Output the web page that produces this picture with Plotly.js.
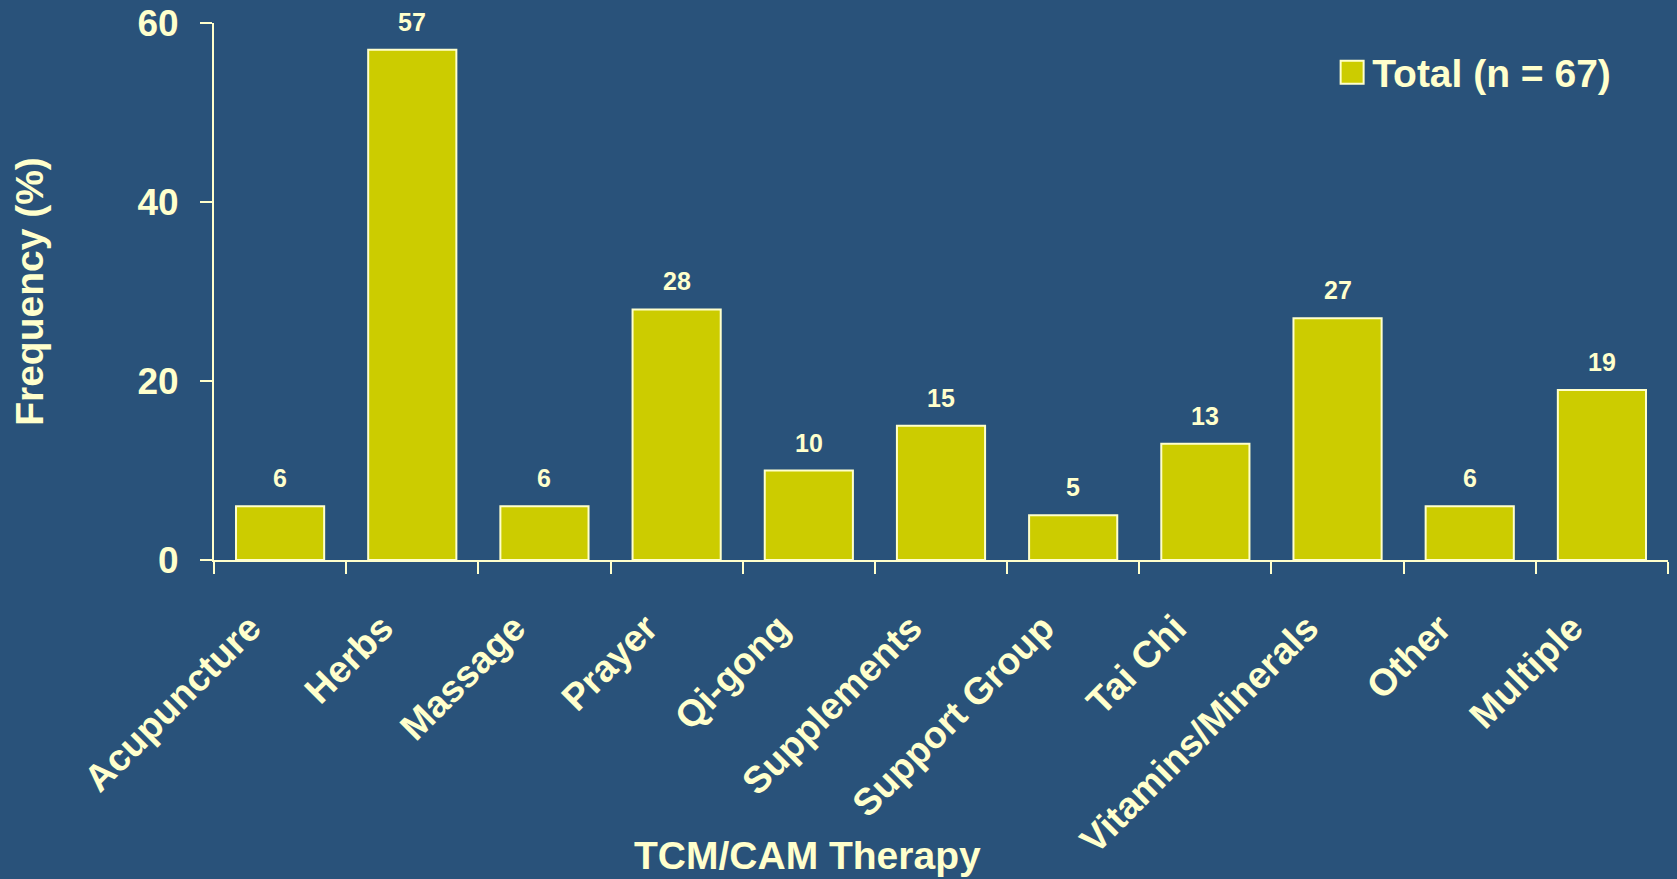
<!DOCTYPE html>
<html>
<head>
<meta charset="utf-8">
<script src="https://cdn.plot.ly/plotly-3.0.1.min.js"></script>
<style>
  html, body { margin: 0; padding: 0; background: #29527A; }
  #chart { width: 1677px; height: 879px; }
</style>
</head>
<body>
<div id="chart"></div>
<script>
const categories = ["Acupuncture", "Herbs", "Massage", "Prayer", "Qi-gong", "Supplements",
  "Support Group", "Tai Chi", "Vitamins/Minerals", "Other", "Multiple"];
const totalValues = [6, 57, 6, 28, 10, 15, 5, 13, 27, 6, 19];
const seriesName = "Total (n = 67)";
const yTickValues = [0, 20, 40, 60];

const BG = "#29527A";
const CREAM = "#FFFFCC";
const BAR = "#CCCC00";
const FONT = "Liberation Sans, Arial, Helvetica, sans-serif";

const trace = {
  type: "bar",
  x: categories,
  y: totalValues,
  name: seriesName,
  marker: { color: BAR, line: { color: CREAM, width: 2 } },
  hoverinfo: "x+y",
  showlegend: true
};

const valueLabels = categories.map((c, i) => ({
  x: c, y: totalValues[i], xref: "x", yref: "y",
  text: String(totalValues[i]), showarrow: false,
  yanchor: "bottom", yshift: 12,
  font: { family: FONT, size: 25, color: CREAM, weight: "bold" }
}));

const layout = {
  width: 1677, height: 879,
  paper_bgcolor: BG, plot_bgcolor: BG,
  margin: { l: 214, r: 9, t: 23, b: 319 },
  font: { family: FONT, color: CREAM, size: 38, weight: "bold" },
  bargap: 0.333,
  xaxis: {
    type: "category",
    tickson: "boundaries",
    ticks: "outside", ticklen: 12, tickwidth: 2, tickcolor: CREAM,
    showline: true, linecolor: CREAM, linewidth: 2,
    showgrid: false, zeroline: false,
    tickangle: -45,
    ticklabelstandoff: 29,
    ticklabelshift: -30,
    tickfont: { family: FONT, size: 37.5, color: CREAM, weight: "bold" },
    automargin: false
  },
  yaxis: {
    range: [0, 60],
    tickvals: yTickValues,
    ticks: "outside", ticklen: 12, tickwidth: 2, tickcolor: CREAM,
    showline: true, linecolor: CREAM, linewidth: 2,
    showgrid: false, zeroline: false,
    ticklabelstandoff: 14,
    tickfont: { family: FONT, size: 37, color: CREAM, weight: "bold" },
    title: { text: "Frequency (%)", standoff: 82,
      font: { family: FONT, size: 39, color: CREAM, weight: "bold" } },
    automargin: false
  },
  legend: {
    x: 0.769, y: 0.908, xanchor: "left", yanchor: "middle",
    bgcolor: "rgba(0,0,0,0)",
    font: { family: FONT, size: 39, color: CREAM, weight: "bold" }
  },
  annotations: valueLabels.concat([{
    xref: "paper", yref: "paper", x: 0.408, y: -0.551,
    xanchor: "center", yanchor: "middle", showarrow: false,
    text: "TCM/CAM Therapy",
    font: { family: FONT, size: 39, color: CREAM, weight: "bold" }
  }])
};

Plotly.newPlot("chart", [trace], layout, { displayModeBar: false, staticPlot: true }).then(() => {
  document.querySelectorAll(".legend .legendpoints path").forEach(p => {
    p.setAttribute("d", "M11.5,11.5H-11.5V-11.5H11.5Z");
  });
});
</script>
</body>
</html>
